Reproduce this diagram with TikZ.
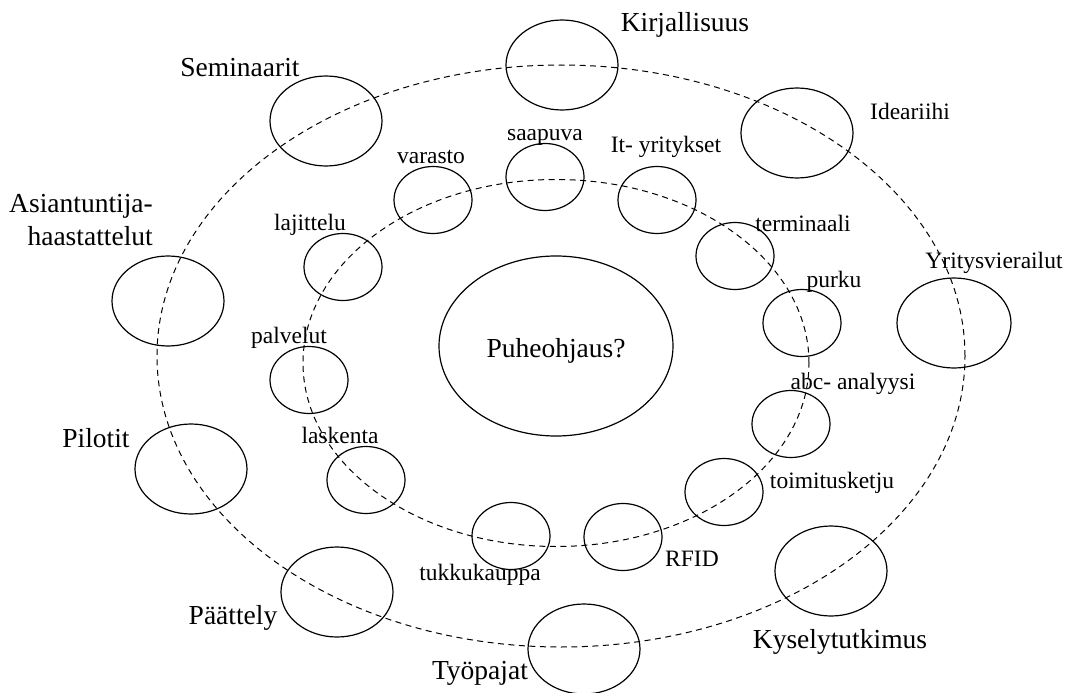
\documentclass[tikz,border=0pt]{standalone}
\usepackage{fontspec}
\setmainfont{Liberation Serif}
\usetikzlibrary{shapes.geometric}
\begin{document}
\begin{tikzpicture}[x=1pt,y=-1pt,
  ring/.style={draw, ellipse, inner sep=0pt, line width=1pt, dash pattern=on 6pt off 4.5pt},
  bubble/.style={draw, ellipse, line width=1.2pt, inner sep=0pt, minimum width=112pt, minimum height=90pt},
  smallbubble/.style={draw, ellipse, line width=1.2pt, inner sep=0pt, minimum width=78pt, minimum height=67pt},
  biglabel/.style={font=\fontsize{27.5}{33}\selectfont, inner sep=0pt, anchor=base},
  smalllabel/.style={font=\fontsize{23.5}{28}\selectfont, inner sep=0pt, anchor=base}]
\useasboundingbox (0,0) rectangle (1072,693);

% dashed rings
\node[ring, minimum width=808pt, minimum height=582pt] (outerring) at (561,356) {};
\node[ring, minimum width=506pt, minimum height=367pt] (innerring) at (556,363) {};

% centre
\node[draw, ellipse, line width=1.2pt, inner sep=0pt, minimum width=234pt, minimum height=180pt] (centre) at (556,346) {};
\node[biglabel] (centretext) at (556,357) {Puheohjaus?};

% outer ring: methods
\node[bubble] (kirj) at (562,65) {};
\node[biglabel] (kirjtext) at (685,32) {Kirjallisuus};
\node[bubble] (semi) at (326,121) {};
\node[biglabel] (semitext) at (240,77) {Seminaarit};
\node[bubble] (idea) at (797,133) {};
\node[smalllabel] (ideatext) at (910,119) {Ideariihi};
\node[bubble] (asia) at (168,301) {};
\node[biglabel, anchor=base east] (asiatext1) at (153,212) {Asiantuntija-};
\node[biglabel, anchor=base east] (asiatext2) at (153,245) {haastattelut};
\node[bubble, minimum width=114pt] (yrit) at (954,323) {};
\node[smalllabel] (yrittext) at (994,268) {Yritysvierailut};
\node[bubble] (pilo) at (191,469) {};
\node[biglabel] (pilotext) at (96,447) {Pilotit};
\node[bubble] (paat) at (337,592) {};
\node[biglabel] (paattext) at (233,624) {Päättely};
\node[bubble] (tyop) at (584,649) {};
\node[biglabel] (tyoptext) at (480,679) {Työpajat};
\node[bubble] (kysy) at (831,571) {};
\node[biglabel] (kysytext) at (840,648) {Kyselytutkimus};

% inner ring: topics
\node[smallbubble] (saap) at (545,177) {};
\node[smalllabel] (saaptext) at (545,140) {saapuva};
\node[smallbubble] (vara) at (433,200) {};
\node[smalllabel] (varatext) at (431,163) {varasto};
\node[smallbubble] (ityr) at (657,200) {};
\node[smalllabel] (ityrtext) at (666,152) {It- yritykset};
\node[smallbubble] (lajit) at (343,267) {};
\node[smalllabel] (lajittext) at (310,230) {lajittelu};
\node[smallbubble] (term) at (735,256) {};
\node[smalllabel] (termtext) at (803,231) {terminaali};
\node[smallbubble] (palv) at (309,380) {};
\node[smalllabel] (palvtext) at (289,343) {palvelut};
\node[smallbubble] (purk) at (802,323) {};
\node[smalllabel] (purktext) at (834,287) {purku};
\node[smallbubble] (abca) at (791,424) {};
\node[smalllabel] (abcatext) at (853,389) {abc- analyysi};
\node[smallbubble] (lask) at (366,480) {};
\node[smalllabel] (lasktext) at (340,443) {laskenta};
\node[smallbubble] (toim) at (724,492) {};
\node[smalllabel] (toimtext) at (832,488) {toimitusketju};
\node[smallbubble] (tukk) at (511,536) {};
\node[smalllabel] (tukktext) at (480,580) {tukkukauppa};
\node[smallbubble] (rfid) at (623,537) {};
\node[smalllabel] (rfidtext) at (692,566) {RFID};
\end{tikzpicture}
\end{document}
